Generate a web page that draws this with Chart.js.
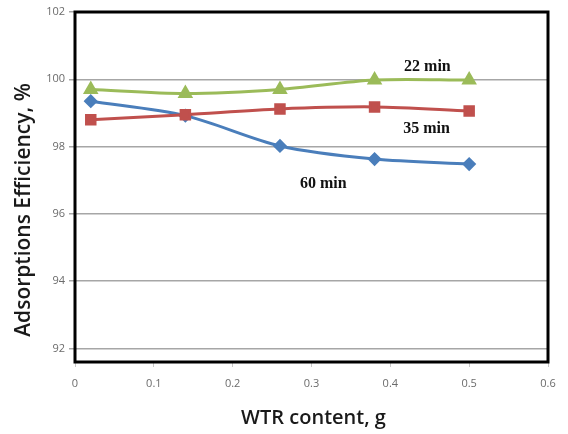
<!DOCTYPE html>
<html>
<head>
<meta charset="utf-8">
<script src="https://cdn.jsdelivr.net/npm/chart.js@4.4.1/dist/chart.umd.min.js"></script>
<style>
    body { margin: 0; background: #ffffff; }
    canvas { display: block; }
</style>
</head>
<body>
<canvas id="effChart" width="568" height="434"></canvas>
<script>
// WTR content (g) and adsorption efficiency (%) for each contact time
const wtrContent = [0.02, 0.14, 0.26, 0.38, 0.5];
const eff22min = [99.70, 99.58, 99.70, 99.98, 99.98];
const eff35min = [98.80, 98.95, 99.12, 99.18, 99.06];
const eff60min = [99.35, 98.92, 98.02, 97.63, 97.48];

const yTicks = [92, 94, 96, 98, 100, 102];
const seriesLabels = ['22 min', '35 min', '60 min'];

const xTitle = 'WTR content, g';
const yTitle = 'Adsorptions Efficiency, %';

function toPoints(values) {
    return wtrContent.map((x, i) => ({ x: x, y: values[i] }));
}

// Frame, axis titles and series labels
const decorations = {
    id: 'decorations',
    afterDraw(chart) {
        const ctx = chart.ctx;
        const area = chart.chartArea;
        const xs = chart.scales.x;
        const ys = chart.scales.y;

        ctx.save();
        ctx.strokeStyle = '#000000';
        ctx.lineWidth = 3;
        ctx.strokeRect(area.left, area.top, area.right - area.left, area.bottom - area.top);

        // series labels placed next to their lines
        ctx.fillStyle = '#111111';
        ctx.font = 'bold 16px "Liberation Serif", serif';
        ctx.textAlign = 'center';
        ctx.textBaseline = 'middle';
        ctx.fillText(seriesLabels[0], xs.getPixelForValue(0.447), ys.getPixelForValue(100.36));
        ctx.fillText(seriesLabels[1], xs.getPixelForValue(0.446), ys.getPixelForValue(98.52));
        ctx.fillText(seriesLabels[2], xs.getPixelForValue(0.315), ys.getPixelForValue(96.9));

        // axis titles
        ctx.fillStyle = '#1a1a1a';
        ctx.font = '600 20px "Open Sans", sans-serif';
        ctx.fillText(xTitle, (area.left + area.right) / 2 + 2, 418);

        ctx.translate(24, 210);
        ctx.rotate(-Math.PI / 2);
        ctx.font = '600 21px "Open Sans", sans-serif';
        ctx.fillText(yTitle, 0, 0);
        ctx.restore();
    }
};

const ctx = document.getElementById('effChart').getContext('2d');
new Chart(ctx, {
    type: 'line',
    data: {
        datasets: [{
            label: seriesLabels[0],
            data: toPoints(eff22min),
            borderColor: '#9bbb59',
            backgroundColor: '#9bbb59',
            pointStyle: 'triangle',
            pointRadius: 6,
            borderWidth: 3,
            tension: 0.3
        }, {
            label: seriesLabels[1],
            data: toPoints(eff35min),
            borderColor: '#c0504d',
            backgroundColor: '#c0504d',
            pointStyle: 'rect',
            pointRadius: 6,
            borderWidth: 3,
            tension: 0.3
        }, {
            label: seriesLabels[2],
            data: toPoints(eff60min),
            borderColor: '#4a7ebb',
            backgroundColor: '#4a7ebb',
            pointStyle: 'rectRot',
            pointRadius: 5,
            borderWidth: 3,
            tension: 0.3
        }]
    },
    options: {
        responsive: false,
        animation: false,
        layout: {
            padding: { top: 12, right: 20, left: 0, bottom: 0 }
        },
        plugins: {
            legend: { display: false },
            tooltip: { enabled: false }
        },
        scales: {
            x: {
                type: 'linear',
                min: 0,
                max: 0.6,
                afterFit: function(scale) { scale.height = 72; },
                grid: {
                    drawOnChartArea: false,
                    drawTicks: true,
                    tickLength: 5,
                    color: '#c8c8c8'
                },
                border: { display: false },
                ticks: {
                    stepSize: 0.1,
                    padding: 10,
                    color: '#6b6b6b',
                    font: { family: '"Open Sans", sans-serif', size: 11 },
                    callback: function(value) {
                        return String(Math.round(value * 10) / 10);
                    }
                }
            },
            y: {
                min: 91.6,
                max: 102,
                afterFit: function(scale) { scale.width = 75; },
                afterBuildTicks: function(scale) {
                    scale.ticks = yTicks.map(v => ({ value: v }));
                },
                grid: {
                    color: '#a6a6a6',
                    lineWidth: 1.5,
                    tickLength: 6
                },
                border: { display: false },
                ticks: {
                    padding: 4,
                    color: '#6b6b6b',
                    font: { family: '"Open Sans", sans-serif', size: 11 }
                }
            }
        }
    },
    plugins: [decorations]
});
</script>
</body>
</html>
